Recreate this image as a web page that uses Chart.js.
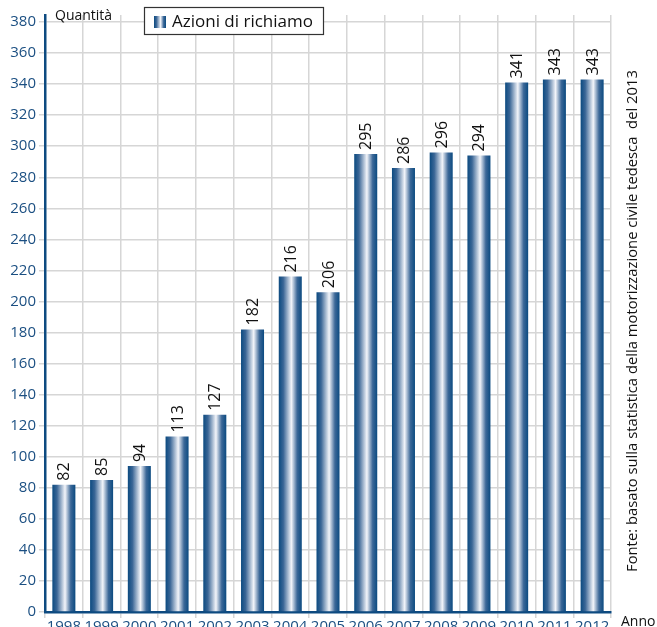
<!DOCTYPE html>
<html>
<head>
<meta charset="utf-8">
<script src="https://cdn.jsdelivr.net/npm/chart.js@4"></script>
<style>
  html, body { margin: 0; padding: 0; background: #fff; overflow: hidden; }
  canvas { display: block; }
</style>
</head>
<body>
<canvas id="mycanvas" width="657" height="640"></canvas>
<script>
// data
var anni = ['1998','1999','2000','2001','2002','2003','2004','2005','2006','2007','2008','2009','2010','2011','2012'];
var richiami = [82, 85, 94, 113, 127, 182, 216, 206, 295, 286, 296, 294, 341, 343, 343];
var serieLabel = 'Azioni di richiamo';
var yTicks = [0, 20, 40, 60, 80, 100, 120, 140, 160, 180, 200, 220, 240, 260, 280, 300, 320, 340, 360, 380];
var fonte = 'Fonte: basato sulla statistica della motorizzazione civile tedesca  del 2013';

var FONT = '"Open Sans", "Noto Sans", sans-serif';
var BLU = '#0d4a80';
var TXTBLU = '#1b4f82';

function barGradient(c, x0, x1) {
	var g = c.createLinearGradient(x0, 0, x1, 0);
	g.addColorStop(0, '#0b4a80');
	g.addColorStop(0.2, '#3a6696');
	g.addColorStop(0.55, '#f3f5fa');
	g.addColorStop(0.8, '#3c6898');
	g.addColorStop(1, '#0b4a80');
	return g;
}

var extras = {
	id: 'extras',
	afterDatasetsDraw: function(chart) {
		var c = chart.ctx;
		var meta = chart.getDatasetMeta(0);
		c.save();
		c.fillStyle = '#111';
		c.font = '16px ' + FONT;
		c.textAlign = 'left';
		c.textBaseline = 'middle';
		meta.data.forEach(function(bar, i) {
			c.save();
			c.translate(bar.x + 1, bar.y - 4);
			c.rotate(-Math.PI / 2);
			c.fillText(String(richiami[i]), 0, 0);
			c.restore();
		});
		c.restore();
	},
	afterDraw: function(chart) {
		var c = chart.ctx;
		c.save();
		// legend box
		c.fillStyle = '#fff';
		c.fillRect(144, 7, 180, 28);
		c.strokeStyle = '#333';
		c.lineWidth = 1.2;
		c.strokeRect(144.5, 7.5, 179, 27);
		c.fillStyle = barGradient(c, 154, 166);
		c.fillRect(154, 16, 12, 12);
		c.fillStyle = '#111';
		c.font = '17px ' + FONT;
		c.textAlign = 'left';
		c.textBaseline = 'middle';
		c.fillText(serieLabel, 172, 22);
		// axis titles
		c.font = '14px ' + FONT;
		c.textBaseline = 'alphabetic';
		c.fillText('Quantità', 55, 20);
		c.fillText('Anno', 621, 626);
		// source, vertical
		c.translate(637, 572);
		c.rotate(-Math.PI / 2);
		c.font = '14.8px ' + FONT;
		c.fillText(fonte, 0, 0);
		c.restore();
	}
};

var ctx = document.getElementById('mycanvas');

var barGraph = new Chart(ctx, {
	type: 'bar',
	data: {
		labels: anni,
		datasets: [{
			label: serieLabel,
			data: richiami,
			backgroundColor: function(context) {
				var chart = context.chart;
				var x = chart.scales.x;
				if (!x || !chart.chartArea) return BLU;
				var w = (x.width / anni.length) * 0.61;
				var cx = x.getPixelForValue(context.dataIndex);
				return barGradient(chart.ctx, cx - w / 2, cx + w / 2);
			},
			borderWidth: 0,
			categoryPercentage: 1,
			barPercentage: 0.61
		}]
	},
	options: {
		responsive: false,
		animation: false,
		devicePixelRatio: 1,
		layout: { padding: { left: 0, right: 46, top: 15, bottom: 0 } },
		plugins: {
			legend: { display: false },
			tooltip: { enabled: false }
		},
		scales: {
			x: {
				offset: true,
				grid: { offset: true, color: '#d6d6d6', lineWidth: 1.5, tickLength: 6 },
				border: { color: BLU, width: 2.5 },
				ticks: { color: TXTBLU, font: { family: FONT, size: 15 }, padding: 0, maxRotation: 0, autoSkip: false },
				afterFit: function(s) { s.height = 28; }
			},
			y: {
				min: 0,
				max: 384.5,
				grid: { color: '#d6d6d6', lineWidth: 1.5, tickLength: 6 },
				border: { color: BLU, width: 2.5 },
				ticks: { stepSize: 20, color: TXTBLU, font: { family: FONT, size: 15 }, padding: 3 },
				afterBuildTicks: function(s) {
					s.ticks = yTicks.map(function(v) { return { value: v }; });
				},
				afterFit: function(s) { s.width = 45; }
			}
		}
	},
	plugins: [extras]
});
</script>
</body>
</html>
